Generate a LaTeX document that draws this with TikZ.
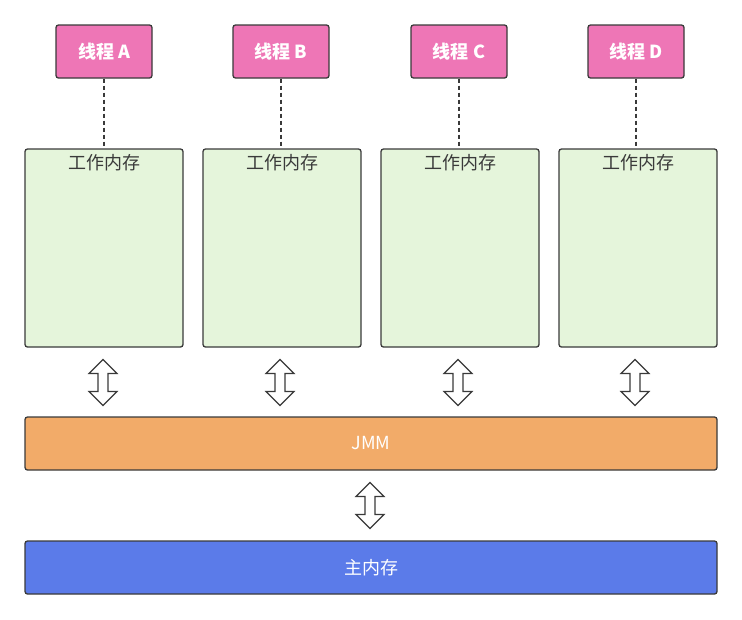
\documentclass[tikz,border=0pt]{standalone}
\usepackage{fontspec}
\setmainfont{Noto Sans CJK SC}
\definecolor{thfill}{HTML}{EE76B6}
\definecolor{wmfill}{HTML}{E5F5DB}
\definecolor{jmmfill}{HTML}{F2AB69}
\definecolor{mainfill}{HTML}{5B7BE9}
\definecolor{edge}{HTML}{3A3A3A}
\tikzset{
  thread/.style={draw=edge, line width=1.3pt, fill=thfill, rounded corners=2.5pt, minimum width=96pt, minimum height=53pt, inner sep=0pt, text=white, font=\fontsize{18}{20}\selectfont\bfseries},
  wmbox/.style={draw=edge, line width=1.3pt, fill=wmfill, rounded corners=2.5pt, minimum width=158pt, minimum height=198pt, inner sep=0pt},
  wmlabel/.style={text=edge, font=\fontsize{18}{20}\selectfont, inner sep=0pt},
  bar/.style={draw=edge, line width=1.3pt, rounded corners=2.5pt, minimum width=692pt, minimum height=53pt, inner sep=0pt, text=white, font=\fontsize{18}{20}\selectfont},
  link/.style={draw=edge, line width=1.2pt, dash pattern=on 4pt off 3pt},
  dbl/.style={draw=edge, line width=1.2pt, fill=white, line join=miter},
}
\newcommand{\dblarrow}[1]{%
  \draw[dbl] ([shift={(0,-23)}]#1) -- ++(14,14) -- ++(-9,0) -- ++(0,18) -- ++(9,0)
    -- ++(-14,14) -- ++(-14,-14) -- ++(9,0) -- ++(0,-18) -- ++(-9,0) -- cycle;}
\begin{document}
\begin{tikzpicture}[x=1pt,y=-1pt]
\useasboundingbox (0,0) rectangle (742,619);
\foreach \n/\x/\wx/\l in {A/104/104/A, B/281/282/B, C/459/460/C, D/636/638/D}{
  \node[thread] (t\n) at (\x,51.5) {线程 \l};
  \node[wmbox] (w\n) at (\wx,248) {};
  \node[wmlabel, anchor=north] (wl\n) at ([yshift=-6pt]w\n.north) {工作内存};
  \draw[link] (t\n.south) -- (t\n.south |- w\n.north);
  \coordinate (d\n) at (\x-1,382.5);
  \dblarrow{d\n}
}
\node[bar, fill=jmmfill] (jmm) at (371,443.5) {JMM};
\coordinate (dj) at (370,505.5);
\dblarrow{dj}
\node[bar, fill=mainfill] (main) at (371,567.5) {主内存};
\end{tikzpicture}
\end{document}
